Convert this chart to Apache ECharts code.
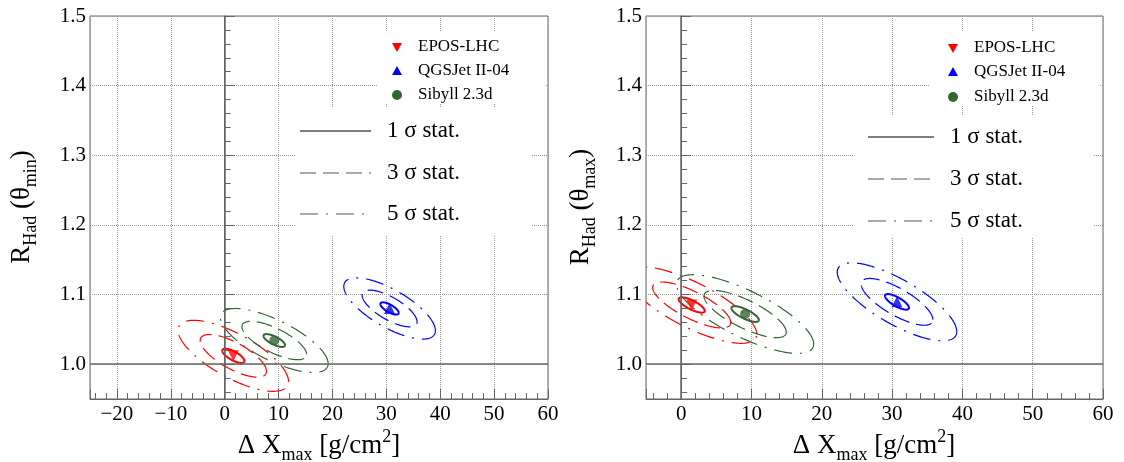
<!DOCTYPE html>
<html>
<head>
<meta charset="utf-8">
<script src="https://cdn.jsdelivr.net/npm/echarts@6/dist/echarts.min.js"></script>
<style>
  html, body { margin: 0; padding: 0; background: #fff; }
  #chart { width: 1124px; height: 462px; }
</style>
</head>
<body>
<div id="chart"></div>
<script>
// models shown in both panels
const models = ['EPOS-LHC', 'QGSJet II-04', 'Sibyll 2.3d'];
const sigmaLevels = [1, 3, 5];
const sigmaLabels = ['1 σ stat.', '3 σ stat.', '5 σ stat.'];

// left panel, theta_min : best fit point, 1 sigma widths, correlation
const minX = [1.6, 30.6, 9.2];
const minY = [1.012, 1.080, 1.034];
const minSigX = [2.05, 1.7, 2.0];
const minSigY = [0.0102, 0.0088, 0.0092];
const minRho = [-0.72, -0.72, -0.72];

// right panel, theta_max
const maxX = [1.5, 30.7, 9.1];
const maxY = [1.085, 1.0895, 1.072];
const maxSigX = [1.85, 1.7, 1.95];
const maxSigY = [0.011, 0.0112, 0.0113];
const maxRho = [-0.76, -0.76, -0.76];

// axis ranges
const leftXRange = [-25, 60];
const rightXRange = [-5, 60];
const yRange = [0.95, 1.5];

const FONT = 'Liberation Serif';
const colors = ['#ff0000', '#0000ff', '#336633'];
const symbols = ['triangle', 'triangle', 'circle'];
const symbolRot = [180, 0, 0];
const levelStyle = {
  1: { lineWidth: 2, lineDash: null },
  3: { lineWidth: 1.2, lineDash: [16, 7] },
  5: { lineWidth: 1.2, lineDash: [18, 8, 2, 8] }
};

var myChart = echarts.init(document.getElementById('chart'));

function ellipseRows(cx, cy, sx, sy, rho) {
  let rows = [];
  models.forEach((m, i) => {
    sigmaLevels.forEach(k => rows.push([cx[i], cy[i], sx[i], sy[i], rho[i], k, i]));
  });
  return rows;
}

function renderEllipse(params, api) {
  const cx = api.value(0), cy = api.value(1);
  const sx = api.value(2), sy = api.value(3), rho = api.value(4);
  const k = api.value(5), m = api.value(6);
  const q = Math.sqrt(1 - rho * rho);
  let pts = [];
  for (let i = 0; i <= 240; i++) {
    const t = 2 * Math.PI * i / 240;
    const u = Math.cos(t), v = Math.sin(t);
    pts.push(api.coord([cx + k * sx * u, cy + k * sy * (rho * u + q * v)]));
  }
  const cs = params.coordSys;
  return {
    type: 'polyline',
    shape: { points: pts },
    clipPath: { type: 'rect', shape: { x: cs.x, y: cs.y, width: cs.width, height: cs.height } },
    style: {
      stroke: colors[m],
      fill: null,
      lineWidth: levelStyle[k].lineWidth,
      lineDash: levelStyle[k].lineDash
    }
  };
}

function fmtX(min) {
  return function (v) {
    if (v === min) return '';
    return v < 0 ? '\u2212' + (-v) : String(v);
  };
}

function xAxes(grid, range) {
  return [
    {
      type: 'value', gridIndex: grid, position: 'bottom',
      min: range[0], max: range[1], minInterval: 10, maxInterval: 10,
      axisLine: { show: true, lineStyle: { color: '#666', width: 1 } },
      axisTick: { show: true, inside: true, length: 10, lineStyle: { color: '#666' } },
      axisLabel: { formatter: fmtX(range[0]), fontFamily: FONT, fontSize: 21, color: '#000', margin: 5 },
      splitLine: { show: true, lineStyle: { type: 'dotted', color: '#999', width: 1 } }
    },
    {
      type: 'value', gridIndex: grid, position: 'bottom',
      min: range[0], max: range[1], minInterval: 2, maxInterval: 2,
      axisLine: { show: false },
      axisTick: { show: true, inside: true, length: 6, lineStyle: { color: '#666' } },
      axisLabel: { show: false },
      splitLine: { show: false }
    }
  ];
}

function yAxes(grid) {
  return [
    {
      type: 'value', gridIndex: grid, position: 'left',
      min: yRange[0], max: yRange[1], minInterval: 0.1, maxInterval: 0.1,
      axisLine: { show: true, lineStyle: { color: '#666', width: 1 } },
      axisTick: { show: true, inside: true, length: 10, lineStyle: { color: '#666' } },
      axisLabel: {
        formatter: v => (Math.abs(v - yRange[0]) < 1e-9 ? '' : v.toFixed(1)),
        fontFamily: FONT, fontSize: 21, color: '#000', margin: 4
      },
      splitLine: { show: true, lineStyle: { type: 'dotted', color: '#999', width: 1 } }
    },
    {
      type: 'value', gridIndex: grid, position: 'left',
      min: yRange[0], max: yRange[1], minInterval: 0.02, maxInterval: 0.02,
      axisLine: { show: false },
      axisTick: { show: true, inside: true, length: 6, lineStyle: { color: '#666' } },
      axisLabel: { show: false },
      splitLine: { show: false }
    }
  ];
}

function panelSeries(xi, yi, cx, cy, sx, sy, rho) {
  let list = [];
  // reference lines at 0 and 1
  list.push({
    type: 'scatter', xAxisIndex: xi, yAxisIndex: yi, data: [], z: 1,
    markLine: {
      silent: true, symbol: 'none', label: { show: false },
      lineStyle: { color: '#666', type: 'solid', width: 1.5 },
      data: [{ xAxis: 0 }, { yAxis: 1 }]
    }
  });
  list.push({
    type: 'custom', coordinateSystem: 'cartesian2d',
    xAxisIndex: xi, yAxisIndex: yi,
    renderItem: renderEllipse,
    data: ellipseRows(cx, cy, sx, sy, rho),
    z: 3
  });
  models.forEach((m, i) => {
    list.push({
      type: 'scatter', name: m, xAxisIndex: xi, yAxisIndex: yi,
      symbol: symbols[i], symbolRotate: symbolRot[i], symbolSize: i === 2 ? 10 : 11,
      itemStyle: { color: colors[i] },
      data: [[cx[i], cy[i]]], z: 5
    });
  });
  return list;
}

function legendGraphics(p) {
  let g = [];
  g.push({ type: 'rect', shape: p.box1, style: { fill: '#fff' }, z: 5 });
  g.push({ type: 'rect', shape: p.box2, style: { fill: '#fff' }, z: 5 });
  models.forEach((m, i) => {
    const x = p.markX, y = p.markY[i];
    let shape;
    if (i === 0) shape = { type: 'polygon', shape: { points: [[x - 5, y - 4], [x + 5, y - 4], [x, y + 5]] } };
    else if (i === 1) shape = { type: 'polygon', shape: { points: [[x - 5, y + 4], [x + 5, y + 4], [x, y - 5]] } };
    else shape = { type: 'circle', shape: { cx: x, cy: y, r: 5 } };
    shape.style = { fill: colors[i] };
    shape.z = 6;
    g.push(shape);
    g.push({
      type: 'text', x: p.textX, y: y, z: 6,
      style: { text: m, fontFamily: FONT, fontSize: 17, fill: '#000', verticalAlign: 'middle' }
    });
  });
  sigmaLevels.forEach((k, i) => {
    const y = p.lineY[i];
    g.push({
      type: 'line', z: 6,
      shape: { x1: p.lineX[0], y1: y, x2: p.lineX[1], y2: y },
      style: { stroke: '#555', lineWidth: levelStyle[k].lineWidth === 2 ? 1.3 : 1.2, lineDash: levelStyle[k].lineDash }
    });
    g.push({
      type: 'text', x: p.sigTextX, y: y, z: 6,
      style: { text: sigmaLabels[i], fontFamily: FONT, fontSize: 23, fill: '#000', verticalAlign: 'middle' }
    });
  });
  return g;
}

const titleRich = {
  n: { fontFamily: FONT, fontSize: 27, lineHeight: 36, fill: '#000', color: '#000' },
  s: { fontFamily: FONT, fontSize: 18, lineHeight: 18, verticalAlign: 'bottom', fill: '#000', color: '#000' },
  u: { fontFamily: FONT, fontSize: 18, lineHeight: 18, verticalAlign: 'top', fill: '#000', color: '#000' }
};

function titleGraphics(cxTitle, yTitleX, sub) {
  return [
    {
      type: 'text', x: cxTitle, y: 446, z: 6,
      style: {
        text: '{n|Δ X}{s|max}{n| [g/cm}{u|2}{n|]}', rich: titleRich,
        align: 'center', verticalAlign: 'middle'
      }
    },
    {
      type: 'text', x: yTitleX, y: 207, rotation: Math.PI / 2, z: 6,
      style: {
        text: '{n|R}{s|Had}{n| (θ}{s|' + sub + '}{n|)}', rich: titleRich,
        align: 'center', verticalAlign: 'middle'
      }
    }
  ];
}

let option = {
  animation: false,
  backgroundColor: '#fff',
  grid: [
    { left: 90, top: 16, width: 458, height: 383, show: true, borderColor: '#666', borderWidth: 1, backgroundColor: 'transparent' },
    { left: 646, top: 16, width: 457, height: 383, show: true, borderColor: '#666', borderWidth: 1, backgroundColor: 'transparent' }
  ],
  xAxis: xAxes(0, leftXRange).concat(xAxes(1, rightXRange)),
  yAxis: yAxes(0).concat(yAxes(1)),
  series: panelSeries(0, 0, minX, minY, minSigX, minSigY, minRho)
    .concat(panelSeries(2, 2, maxX, maxY, maxSigX, maxSigY, maxRho)),
  graphic: {
    elements: []
      .concat(legendGraphics({
        box1: { x: 377, y: 31, width: 169, height: 73 },
        box2: { x: 296, y: 108, width: 236, height: 128 },
        markX: 397, markY: [47, 71, 95], textX: 418,
        lineX: [300, 371], lineY: [131, 173, 214], sigTextX: 387
      }))
      .concat(legendGraphics({
        box1: { x: 930, y: 31, width: 170, height: 75 },
        box2: { x: 853, y: 115, width: 241, height: 122 },
        markX: 953, markY: [48, 72, 97], textX: 974,
        lineX: [868, 934], lineY: [137, 179, 221], sigTextX: 950
      }))
      .concat(titleGraphics(319, 22, 'min'))
      .concat(titleGraphics(874, 581, 'max'))
  }
};
myChart.setOption(option);
</script>
</body>
</html>
